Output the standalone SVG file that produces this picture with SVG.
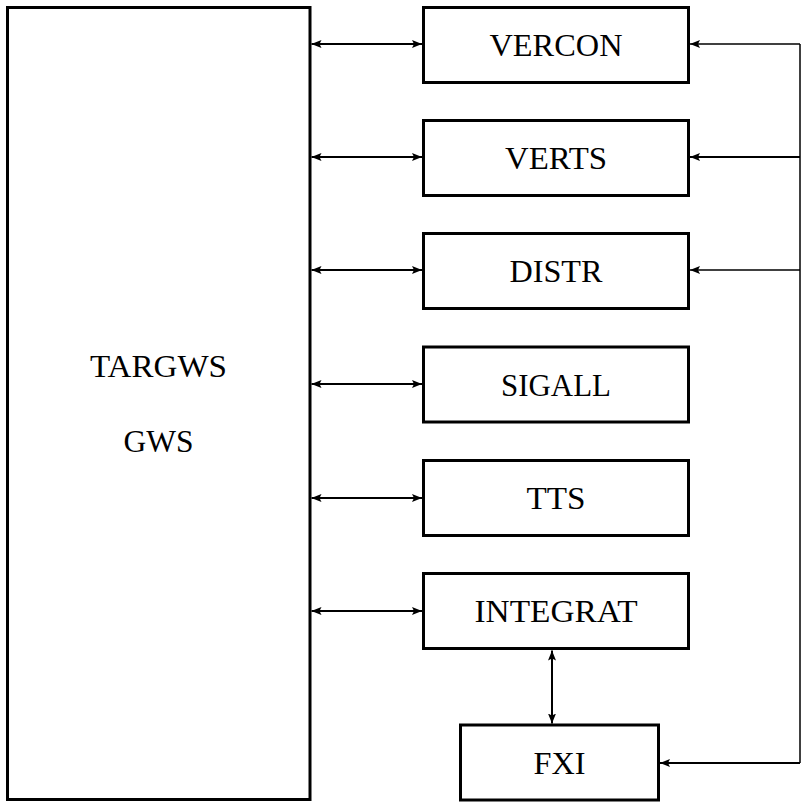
<svg xmlns="http://www.w3.org/2000/svg" width="801" height="802" viewBox="0 0 801 802">
<style>
.box{fill:#fff;stroke:#000;stroke-width:3}
.lbl{font-family:"Liberation Serif","Times New Roman",serif;font-size:32px;fill:#000;text-anchor:middle}
.c{fill:none;stroke:#000;stroke-width:2}
.t{fill:none;stroke:#000;stroke-width:1.5}
</style>
<defs>
<marker id="ah" viewBox="0 0 10 8" refX="10" refY="4" markerWidth="10" markerHeight="8" markerUnits="userSpaceOnUse" orient="auto-start-reverse">
<path d="M0,0 L10,4 L0,8 L2,4 z" fill="#000"/>
</marker>
</defs>
<g id="TARGWS">
<rect class="box" x="7.5" y="7.5" width="302.5" height="792"/>
<text class="lbl" x="158.5" y="377" textLength="137" lengthAdjust="spacingAndGlyphs">TARGWS</text>
<text class="lbl" x="158.5" y="452" textLength="70" lengthAdjust="spacingAndGlyphs">GWS</text>
</g>
<g id="VERCON">
<rect class="box" x="423.5" y="7.5" width="265" height="75"/>
<text class="lbl" x="556" y="56" textLength="133" lengthAdjust="spacingAndGlyphs">VERCON</text>
</g>
<g id="VERTS">
<rect class="box" x="423.5" y="120.5" width="265" height="75"/>
<text class="lbl" x="556" y="168.5" textLength="102" lengthAdjust="spacingAndGlyphs">VERTS</text>
</g>
<g id="DISTR">
<rect class="box" x="423.5" y="233.5" width="265" height="75"/>
<text class="lbl" x="556" y="282" textLength="93" lengthAdjust="spacingAndGlyphs">DISTR</text>
</g>
<g id="SIGALL">
<rect class="box" x="423.5" y="347" width="265" height="75"/>
<text class="lbl" x="556" y="395.5" textLength="110" lengthAdjust="spacingAndGlyphs">SIGALL</text>
</g>
<g id="TTS">
<rect class="box" x="423.5" y="460.5" width="265" height="75"/>
<text class="lbl" x="556" y="509" textLength="59" lengthAdjust="spacingAndGlyphs">TTS</text>
</g>
<g id="INTEGRAT">
<rect class="box" x="423.5" y="573.5" width="265" height="75"/>
<text class="lbl" x="556" y="622" textLength="163" lengthAdjust="spacingAndGlyphs">INTEGRAT</text>
</g>
<g id="FXI">
<rect class="box" x="460.5" y="725" width="198" height="75"/>
<text class="lbl" x="559.5" y="774" textLength="52" lengthAdjust="spacingAndGlyphs">FXI</text>
</g>
<g id="connectors">
<line class="c" x1="311.5" y1="44" x2="422" y2="44" marker-start="url(#ah)" marker-end="url(#ah)"/>
<line class="c" x1="311.5" y1="157" x2="422" y2="157" marker-start="url(#ah)" marker-end="url(#ah)"/>
<line class="c" x1="311.5" y1="270" x2="422" y2="270" marker-start="url(#ah)" marker-end="url(#ah)"/>
<line class="c" x1="311.5" y1="384" x2="422" y2="384" marker-start="url(#ah)" marker-end="url(#ah)"/>
<line class="c" x1="311.5" y1="498" x2="422" y2="498" marker-start="url(#ah)" marker-end="url(#ah)"/>
<line class="c" x1="311.5" y1="611" x2="422" y2="611" marker-start="url(#ah)" marker-end="url(#ah)"/>
<line class="c" x1="552" y1="650.5" x2="552" y2="723.5" marker-start="url(#ah)" marker-end="url(#ah)"/>
<line class="t" x1="800" y1="44" x2="800" y2="763"/>
<line class="t" x1="800" y1="44" x2="690" y2="44" marker-end="url(#ah)"/>
<line class="c" x1="800" y1="157" x2="690" y2="157" marker-end="url(#ah)"/>
<line class="t" x1="800" y1="270" x2="690" y2="270" marker-end="url(#ah)"/>
<line class="c" x1="800" y1="763" x2="660" y2="763" marker-end="url(#ah)"/>
</g>
</svg>
